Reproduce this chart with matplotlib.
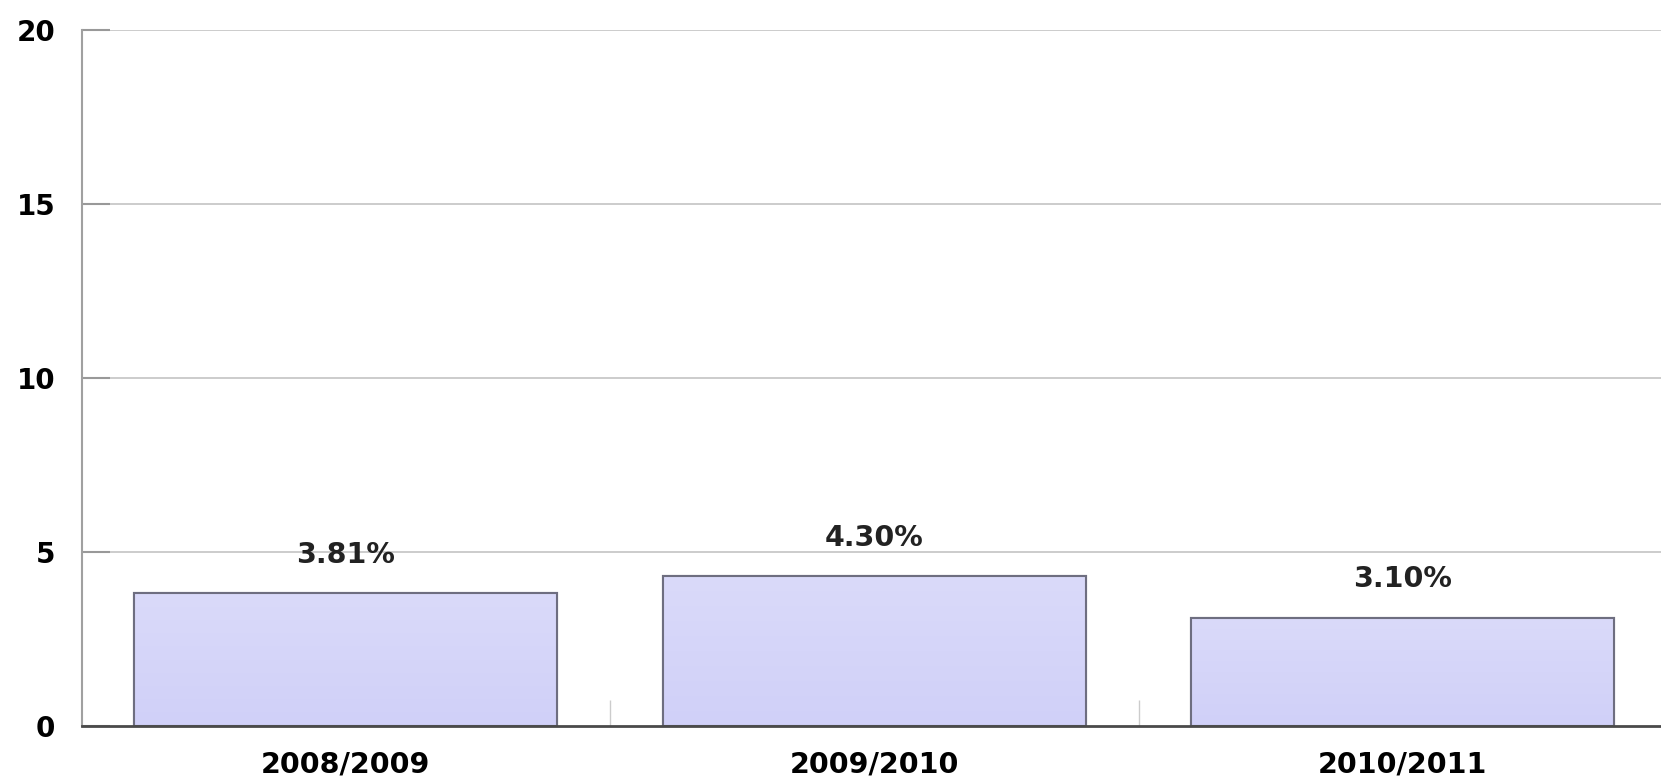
import numpy as np
from matplotlib import pyplot as plt

# data
seasons = ['2008/2009', '2009/2010', '2010/2011']
rates = [3.81, 4.30, 3.10]
rate_labels = ['3.81%', '4.30%', '3.10%']
y_ticks = [0, 5, 10, 15, 20]

fig = plt.figure(figsize=(16.61, 7.76), dpi=100)
ax = fig.add_axes([0.0491, 0.065, 0.9545, 0.8968])

x = np.arange(len(seasons)) + 0.5
bars = ax.bar(x, rates, width=0.8, facecolor='#d4d4f9', edgecolor='#6e6e80', linewidth=1.5, zorder=3)

# vertical gradient inside each bar (lighter top, slightly deeper bottom)
grad = np.linspace(0, 1, 256).reshape(-1, 1)
cmap = plt.matplotlib.colors.LinearSegmentedColormap.from_list('barfill', ['#d0d0f8', '#dadafa'])
for b in bars:
    x0, w, h = b.get_x(), b.get_width(), b.get_height()
    im = ax.imshow(grad, extent=(x0, x0 + w, 0, h), origin='lower', aspect='auto', cmap=cmap, zorder=3.5)
    im.set_clip_path(b)
    ax.add_patch(plt.Rectangle((x0, 0), w, h, fill=False, edgecolor='#6e6e80', linewidth=1.5, zorder=4))

# value labels above bars
for xi, v, lab in zip(x, rates, rate_labels):
    ax.text(xi, v + 1.1, lab, ha='center', va='center', fontsize=20.5, fontweight='bold', color='#222222', zorder=5)

ax.set_xlim(0, 3)
ax.set_ylim(0, 20)

# gridlines
for yv in y_ticks[1:]:
    ax.axhline(yv, color='#c8c8c8', linewidth=1.3, zorder=1)

ax.set_yticks(y_ticks)
ax.set_yticklabels([str(t) for t in y_ticks], fontsize=20, fontweight='bold')
ax.tick_params(axis='y', direction='in', length=20, width=1.5, color='#999999', pad=19)

# category boundaries as major ticks, labels on minor ticks
ax.set_xticks([1, 2])
ax.set_xticklabels([])
ax.tick_params(axis='x', which='major', direction='in', length=19, width=1, color='#cccccc')
ax.set_xticks(x, minor=True)
ax.set_xticklabels(seasons, minor=True, fontsize=20.5, fontweight='bold')
ax.tick_params(axis='x', which='minor', length=0, pad=18)

for s in ['top', 'right']:
    ax.spines[s].set_visible(False)
ax.spines['left'].set_color('#a0a0a0')
ax.spines['left'].set_linewidth(1.5)
ax.spines['bottom'].set_color('#4a4a4a')
ax.spines['bottom'].set_linewidth(2)
ax.spines['bottom'].set_zorder(6)

fig.savefig('out.png', dpi=100)
